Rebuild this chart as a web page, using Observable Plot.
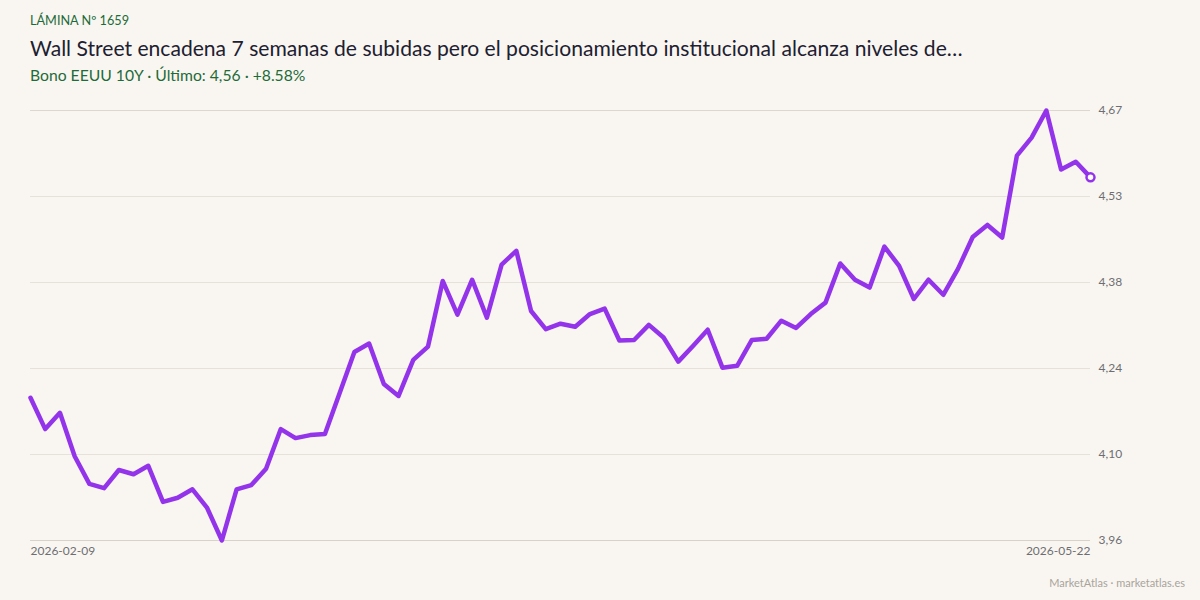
<!DOCTYPE html>
<html>
<head>
<meta charset="utf-8">
<script src="https://cdn.jsdelivr.net/npm/d3@7"></script>
<script src="https://cdn.jsdelivr.net/npm/@observablehq/plot@0.6"></script>
<style>
  html, body { margin: 0; padding: 0; background: #f9f6f1; }
  body { width: 1200px; height: 600px; position: relative; overflow: hidden; font-family: Lato, "Noto Sans", sans-serif; }
  #header { position: relative; height: 98px; }
  .kicker { position: absolute; left: 30px; top: 12px; font-size: 12.7px; color: #1e6b38; letter-spacing: 0; }
  .title { position: absolute; left: 30px; top: 35px; font-size: 21.1px; color: #1d2030; white-space: nowrap; }
  .subtitle { position: absolute; left: 30px; top: 66px; font-size: 15.7px; color: #1e6b38; }
  #chart { position: absolute; left: 0; top: 98px; }
  .footer { position: absolute; right: 15px; top: 576px; font-size: 11px; color: #a8a49c; }
</style>
</head>
<body>
<div id="header">
  <div class="kicker">LÁMINA Nº 1659</div>
  <div class="title">Wall Street encadena 7 semanas de subidas pero el posicionamiento institucional alcanza niveles de…</div>
  <div class="subtitle">Bono EEUU 10Y · Último: 4,56 · +8.58%</div>
</div>
<div id="chart"></div>
<div class="footer">MarketAtlas · marketatlas.es</div>
<script>
// Yield series (one value per trading session, 2026-02-09 … 2026-05-22)
const values = [
  4.193, 4.141, 4.168, 4.096, 4.050, 4.043, 4.073, 4.066, 4.080, 4.020,
  4.027, 4.041, 4.010, 3.956, 4.041, 4.048, 4.075, 4.141, 4.126, 4.131,
  4.133, 4.201, 4.269, 4.283, 4.216, 4.196, 4.256, 4.278, 4.387, 4.331,
  4.389, 4.326, 4.414, 4.437, 4.337, 4.307, 4.316, 4.311, 4.332, 4.341,
  4.288, 4.289, 4.314, 4.293, 4.253, 4.279, 4.306, 4.243, 4.246, 4.289,
  4.291, 4.321, 4.309, 4.332, 4.351, 4.416, 4.389, 4.376, 4.444, 4.412,
  4.357, 4.389, 4.364, 4.407, 4.460, 4.480, 4.459, 4.595, 4.625, 4.670,
  4.572, 4.585, 4.559
];
const xTickLabels = ["2026-02-09", "2026-05-22"];

const data = values.map((v, i) => ({i, v}));
const last = data[data.length - 1];
const [yMin, yMax] = d3.extent(values);
const yTicks = d3.range(6).map(k => yMin + k * (yMax - yMin) / 5);
const fmt = d => d.toFixed(2).replace(".", ",");
const n = values.length - 1;

const chart = Plot.plot({
  width: 1200,
  height: 472,
  marginTop: 12,
  marginBottom: 30,
  marginLeft: 30,
  marginRight: 110,
  style: { background: "transparent", fontFamily: "Lato, 'Noto Sans', sans-serif", fontSize: "12px", color: "#6e6e72" },
  x: { type: "linear", domain: [0, n] },
  y: { domain: [yMin, yMax] },
  marks: [
    Plot.gridY(yTicks, { stroke: "#e6e1d9", strokeOpacity: 1, strokeWidth: 1 }),
    Plot.ruleY([yMin], { stroke: "#d8d2c8", strokeWidth: 1 }),
    Plot.ruleY([yMax], { stroke: "#ddd7cd", strokeWidth: 1 }),
    Plot.axisY(yTicks, { anchor: "right", tickSize: 0, tickPadding: 8, tickFormat: fmt, label: null, fill: "#6e6e72", fontSize: 12 }),
    Plot.axisX([0], { tickSize: 0, tickPadding: 6, tickFormat: () => xTickLabels[0], textAnchor: "start", label: null, fill: "#6e6e72", fontSize: 12 }),
    Plot.axisX([n], { tickSize: 0, tickPadding: 6, tickFormat: () => xTickLabels[1], textAnchor: "end", label: null, fill: "#6e6e72", fontSize: 12 }),
    Plot.line(data, { x: "i", y: "v", stroke: "#9333ea", strokeWidth: 4.5, strokeLinejoin: "round", strokeLinecap: "round" }),
    Plot.dot([last], { x: "i", y: "v", r: 4, fill: "#ffffff", stroke: "#9333ea", strokeWidth: 2.5 })
  ]
});
document.getElementById("chart").appendChild(chart);
</script>
</body>
</html>
